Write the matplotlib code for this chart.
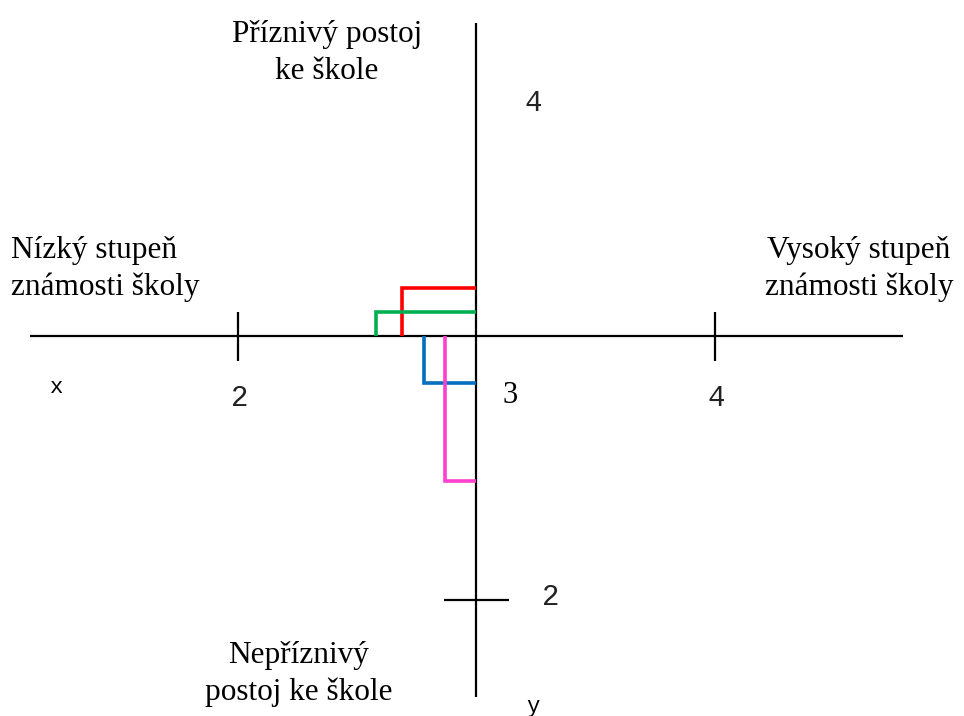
"""Positioning map: school familiarity (x) vs attitude to school (y)."""

import matplotlib
matplotlib.use("Agg")
import matplotlib.pyplot as plt

# evaluated schools: (familiarity, attitude) on a 1-5 scale, origin at 3/3
school_colors = ["#FF0000", "#00B050", "#0070C0", "#FF3FCF"]
familiarity = [2.69, 2.58, 2.78, 2.87]
attitude = [3.18, 3.09, 2.82, 2.45]

origin = 3.0
x_ticks = [2, 4]
y_ticks = [2]
y_extra_label = 4

serif_font = "Liberation Serif"
mono_font = "Liberation Mono"

fig = plt.figure(figsize=(9.64, 7.16), dpi=100)
ax = fig.add_axes([0, 0, 1, 1])
ax.set_xlim(1.004, 5.046)
ax.set_ylim(1.561, 4.270)
ax.axis("off")

# main cross
axis_kw = dict(color="black", linewidth=1.6, solid_capstyle="butt")
ax.plot([1.130, 4.789], [origin, origin], **axis_kw)
ax.plot([origin, origin], [1.634, 4.183], **axis_kw)

# ticks
for xt in x_ticks:
    ax.plot([xt, xt], [origin - 0.095, origin + 0.090], **axis_kw)
for yt in y_ticks:
    ax.plot([origin - 0.134, origin + 0.138], [yt, yt], **axis_kw)

# school markers: step from the x axis up/down, then across to the y axis
for xv, yv, col in zip(familiarity, attitude, school_colors):
    ax.plot([xv, xv, origin], [origin, yv, yv], color=col, linewidth=2.6,
            solid_joinstyle="miter", solid_capstyle="butt")

# numeric labels
num_kw = dict(family=mono_font, fontsize=21, color="#222222",
              ha="center", va="center")
for xt in x_ticks:
    ax.text(xt + 0.008, origin - 0.235, str(xt), **num_kw)
ax.text(origin + 0.143, origin - 0.228, str(int(origin)), family=serif_font,
        fontsize=22, ha="center", va="center")
ax.text(origin + 0.24, origin + 0.88, str(y_extra_label), **num_kw)
for yt in y_ticks:
    ax.text(origin + 0.315, yt + 0.01, str(yt), **num_kw)
ax.text(1.243, origin - 0.195, "x", family=mono_font, fontsize=16,
        ha="center", va="center")
ax.text(origin + 0.24, 1.598, "y", family=mono_font, fontsize=16,
        ha="center", va="center")

# quadrant captions
cap_kw = dict(family=serif_font, fontsize=22.5, linespacing=1.32, va="center")
fig.text(327 / 964, 1 - 53 / 716, "Příznivý postoj\nke škole",
         ha="center", multialignment="center", **cap_kw)
fig.text(11 / 964, 1 - 269 / 716, "Nízký stupeň\nznámosti školy",
         ha="left", multialignment="left", **cap_kw)
fig.text(859 / 964, 1 - 269 / 716, "Vysoký stupeň\nznámosti školy",
         ha="center", multialignment="center", **cap_kw)
fig.text(299 / 964, 1 - 674 / 716, "Nepříznivý\npostoj ke škole",
         ha="center", multialignment="center", **cap_kw)

fig.savefig("out.png", dpi=100)
